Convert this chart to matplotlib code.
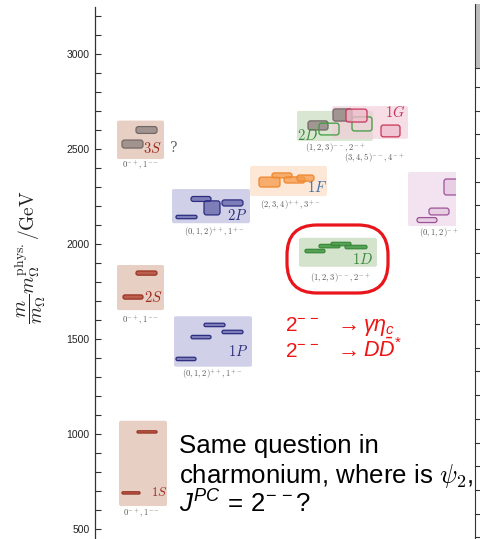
import matplotlib.pyplot as plt
import numpy as np
from matplotlib.colors import to_rgba
from matplotlib.patches import FancyBboxPatch, Rectangle
from matplotlib.ticker import MultipleLocator

plt.rcParams["font.family"] = ["Liberation Sans", "DejaVu Sans"]
plt.rcParams["mathtext.fontset"] = "cm"
plt.rcParams["mathtext.rm"] = "Liberation Sans"
plt.rcParams["mathtext.it"] = "Liberation Sans:italic"
plt.rcParams["mathtext.bf"] = "Liberation Sans:bold"
plt.rcParams["mathtext.sf"] = "Liberation Sans"

# %% Data: level masses [MeV] (m / m_Omega * m_Omega^phys) and half error bands
m_1S = [690, 1011]
e_1S = [6, 6]
m_2S = [1721, 1847]
e_2S = [11, 11]
m_3S = [2526, 2600]
e_3S = [21, 18]
m_1P = [1395, 1510, 1574, 1537]
e_1P = [9, 9, 9, 9]
m_2P = [2142, 2237, 2190, 2216]
e_2P = [9, 13, 37, 16]
m_1D = [1963, 1989, 2000, 1984]
e_1D = [9, 9, 9, 9]
m_1F = [2326, 2361, 2337, 2347]
e_1F = [26, 13, 16, 16]
m_2D = [2624, 2605, 2632, 2679]
e_2D = [24, 31, 37, 32]
kind_2D = ["gray", "main", "main", "gray"]
m_1G = [2676, 2595]
e_1G = [34, 31]
m_hy = [2126, 2171, 2300]
e_hy = [13, 18, 42]

yticks = [500, 1000, 1500, 2000, 2500, 3000]

# %% Layout (pixels)
W, H = 480, 539
PX = 0.19  # pixels per MeV
ROW0, M0 = 54, 3000  # row of the 3000 tick


def mev(row):
    return M0 + (ROW0 - row) / PX


S = dict(edge="#9a3324", face="#b24c38", alpha=0.85, box="#e7cfc4", text="#9e2a1e")
P = dict(edge="#2c2c80", face="#3a3a92", alpha=0.55, box="#d0d1e8", text="#2c2c7a")
F = dict(edge="#f0862a", face="#f59a4c", alpha=0.75, box="#fde7d6", text="#3a6ea8")
D = dict(edge="#3a8a3a", face="#4a9a4a", alpha=0.9, box="#d3e3cc", text="#3b8a3b")
D2 = dict(edge="#3f9a3f", face="#d6e4cf", alpha=0.0, box="#c5dbba", text="#3b8a3b")
G = dict(edge="#c83458", face="#f0bccd", alpha=0.75, box="#f3cbd9", text="#c8325a")
HY = dict(edge="#9b5298", face="#e6cce2", alpha=0.9, box="#f3e3f1", text="#9b5298")
GRAY = dict(edge="#746866", face="#9a8e8b", alpha=0.9)

# name, masses, errors, bar x starts, bar widths, box x-range, pad (top, bottom),
# style, label (x, row, ha, size), jpc text, jpc (x, row)
groups = [
    ("1S", m_1S, e_1S, [122, 137], [18, 20], (119, 167), (10, 12), S,
     (167, 493, "right", 9), r"$0^{-+},1^{--}$", (142, 513)),
    ("2S", m_2S, e_2S, [123, 136], [20, 21], (117, 164), (6, 11), S,
     (163, 297, "right", 10.5), r"$0^{-+},1^{--}$", (141, 320)),
    ("3S", m_3S, e_3S, [122, 136], [21, 21], (117, 164), (6, 11), S,
     (162, 148, "right", 10.5), r"$0^{-+},1^{--}$", (141, 165)),
    ("1P", m_1P, e_1P, [176, 191, 204, 222], [20, 20, 21, 21], (174, 252), (7, 6), P,
     (248, 352, "right", 10.5), r"$(0,1,2)^{++},1^{+-}$", (212, 374)),
    ("2P", m_2P, e_2P, [176, 191, 204, 222], [21, 20, 16, 21], (172, 250), (7.5, 4.5), P,
     (247, 216, "right", 10.5), r"$(0,1,2)^{++},1^{+-}$", (214, 232)),
    ("1F", m_1F, e_1F, [259, 272, 284, 297], [21, 20, 21, 17], (250, 327), (7, 9), F,
     (327, 188, "right", 10.5), r"$(2,3,4)^{++},3^{+-}$", (290, 205)),
    ("1D", m_1D, e_1D, [305, 319, 331, 345], [20, 21, 20, 22], (299, 377), (4.5, 14), D,
     (373, 259, "right", 10.5), r"$(1,2,3)^{--},2^{-+}$", (340, 278)),
    ("2D", m_2D, e_2D, [308, 319, 352, 333], [20, 20, 20, 19], (297, 373), (6, 6), D2,
     (297, 136, "left", 10.5), r"$(1,2,3)^{--},2^{-+}$", (335, 148)),
    ("1G", m_1G, e_1G, [346, 381], [21, 19], (332, 408), (3, 2), G,
     (405, 112, "right", 10.5), r"$(3,4,5)^{--},4^{-+}$", (374, 158)),
    ("", m_hy, e_hy, [417, 429, 444], [20, 20, 20], (408, 462), (7, 3.5), HY,
     None, r"$(0,1,2)^{-+}$", (439, 233)),
]

fig = plt.figure(figsize=(W / 100, H / 100), dpi=100)
ax = fig.add_axes([0, 0, 1, 1])
ax.set_xlim(0, W)
ax.set_ylim(mev(H), mev(0))
ax.patch.set_visible(False)

for side in ("top", "right", "bottom"):
    ax.spines[side].set_visible(False)
ax.spines["left"].set_position(("data", 95))
ax.spines["left"].set_bounds(mev(H), mev(7))
ax.spines["left"].set_color("#333333")
ax.spines["left"].set_linewidth(0.9)
ax.set_xticks([])
ax.set_yticks(yticks)
ax.yaxis.set_minor_locator(MultipleLocator(100))
ax.tick_params(axis="y", which="both", direction="in", length=4, width=0.8,
               color="#333333", labelsize=7.5, pad=4, labelcolor="#222222")

# right half of the last column gets cut at the slide edge
clip = Rectangle((0, mev(H)), 456, mev(0) - mev(H), transform=ax.transData)


def rounded(x0, w, m, e, r, **kw):
    h_px = 2 * e * PX
    r = min(r, 0.48 * h_px)
    return FancyBboxPatch((x0, m - e), w, 2 * e,
                          boxstyle=f"round,pad=0,rounding_size={r:.2f}",
                          mutation_aspect=1 / PX, **kw)


for (name, ms, es, xs, ws, (bx0, bx1), (pt, pb), st,
     lab, jpc, (jx, jrow)) in groups:
    arts = []
    main = [(m, e) for i, (m, e) in enumerate(zip(ms, es))
            if not (name == "2D" and kind_2D[i] == "gray")]
    top = max(m + e for m, e in main) + pt / PX
    bot = min(m - e for m, e in main) - pb / PX
    box = rounded(bx0, bx1 - bx0, (top + bot) / 2, (top - bot) / 2, 2,
                  facecolor=st["box"], edgecolor="none",
                  alpha=0.65 if name in ("2D", "1G") else 1.0, zorder=1)
    ax.add_patch(box)
    arts.append(box)

    for i, (m, e, x0, w) in enumerate(zip(ms, es, xs, ws)):
        s = st
        if name == "3S" or (name == "2D" and kind_2D[i] == "gray"):
            s = GRAY
        bar = rounded(x0, w, m, e, 2.5,
                      facecolor=to_rgba(s["face"], s["alpha"]),
                      edgecolor=s["edge"], linewidth=0.9, zorder=3)
        ax.add_patch(bar)
        arts.append(bar)

    if lab is not None:
        lx, lrow, ha, size = lab
        ax.text(lx, mev(lrow), f"${name}$", ha=ha, va="center", fontsize=size,
                color=st["text"], math_fontfamily="cm", zorder=4)
    t = ax.text(jx, mev(jrow), jpc, ha="center", va="center", fontsize=6.2,
                color="#555555", math_fontfamily="cm", zorder=4)
    arts.append(t)
    if name == "":
        for a in arts:
            a.set_clip_path(clip)

ax.text(170, mev(148), "?", ha="left", va="center", fontsize=10,
        color="#666666", family="DejaVu Serif")

# y label
fig.text(31 / W, 1 - 257 / H,
         r"$\dfrac{m}{m_\Omega}m_\Omega^{\mathrm{phys.}}/\mathrm{GeV}$",
         rotation=90, ha="center", va="center", fontsize=14,
         math_fontfamily="cm", color="#222222")

# highlight around the 1D multiplet
ax.add_patch(FancyBboxPatch((287, mev(293)), 101, 68 / PX,
                            boxstyle="round,pad=0,rounding_size=30",
                            mutation_aspect=1 / PX, facecolor="none",
                            edgecolor="#e8161c", linewidth=2.3, zorder=5))

# decay channels
red = "#f01414"
for row, final in ((331, r"$\gamma\eta_c$"), (357, r"$D\bar{D}^{*}$")):
    y = 1 - row / H
    fig.text(285 / W, y, r"$2^{-\,-}$", fontsize=15, color=red,
             math_fontfamily="custom", va="baseline")
    fig.text(334 / W, y, r"$\rightarrow$", fontsize=16, color=red,
             math_fontfamily="custom", va="baseline")
    fig.text(363 / W, y, final, fontsize=15.5, color=red,
             math_fontfamily="custom", va="baseline")

# question text
fs = 18.6
fig.text(179 / W, 1 - 453 / H, "Same question in", fontsize=fs, va="baseline")
fig.text(179 / W, 1 - 483 / H, r"charmonium, where is $\psi_{\mathsf{2}}$,",
         fontsize=fs, va="baseline", math_fontfamily="cm")
fig.text(179 / W, 1 - 513 / H, r"$J^{PC}\,=\,2^{-\,-}$?", fontsize=fs,
         va="baseline", math_fontfamily="custom")

# edge of the neighbouring table
tr = fig.transFigure
fig.add_artist(plt.Line2D([475 / W, 475 / W], [1 - 4 / H, 0], transform=tr,
                          color="#333333", lw=0.8))
fig.add_artist(Rectangle((476 / W, 1 - 68 / H), 4 / W, 64 / H, transform=tr,
                         facecolor="#bdbdbd", edgecolor="none"))
for row in np.r_[68, np.arange(87, H, 23.7)]:
    fig.add_artist(plt.Line2D([475 / W, 1], [1 - row / H] * 2, transform=tr,
                              color="#333333", lw=0.8))

fig.savefig("out.png", dpi=100)
